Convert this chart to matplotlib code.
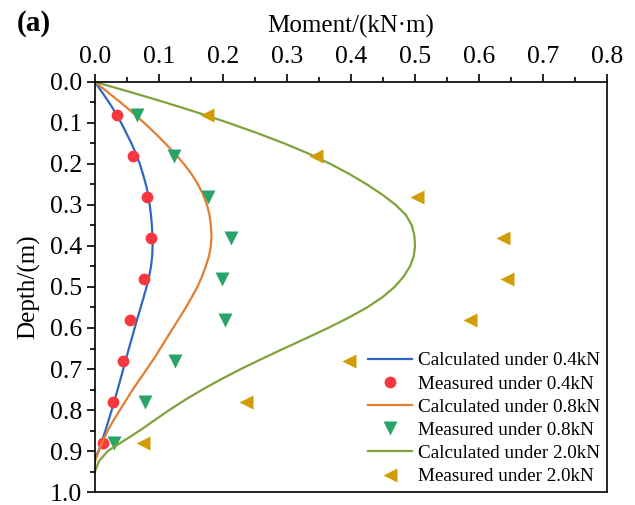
import numpy as np
import matplotlib
matplotlib.use("Agg")
import matplotlib.pyplot as plt
from matplotlib.ticker import MultipleLocator

plt.rcParams['font.family'] = ['Liberation Serif', 'DejaVu Serif']

# calculated curves: depth (m) vs moment (kN*m), 0.025 m steps
calc_depth = [0.000, 0.025, 0.050, 0.075, 0.100, 0.125, 0.150, 0.175, 0.200, 0.225,
              0.250, 0.275, 0.300, 0.325, 0.350, 0.375, 0.400, 0.425, 0.450, 0.475,
              0.500, 0.525, 0.550, 0.575, 0.600, 0.625, 0.650, 0.675, 0.700, 0.725,
              0.750, 0.775, 0.800, 0.825, 0.850, 0.875, 0.900]
calc_04 = [0.000, 0.011, 0.022, 0.032, 0.041, 0.049, 0.057, 0.064, 0.070, 0.075,
           0.0795, 0.0830, 0.0855, 0.0875, 0.0889, 0.0897, 0.0900, 0.0893, 0.0875, 0.0845,
           0.0805, 0.0760, 0.0713, 0.0666, 0.0620, 0.0575, 0.0530, 0.0486, 0.0442, 0.0398,
           0.0354, 0.0308, 0.0261, 0.0213, 0.0163, 0.0110, 0.0055]
calc_08 = [0.000, 0.020, 0.040, 0.059, 0.077, 0.094, 0.110, 0.125, 0.139, 0.151,
           0.161, 0.169, 0.175, 0.179, 0.181, 0.182, 0.181, 0.178, 0.173, 0.167,
           0.160, 0.151, 0.142, 0.132, 0.122, 0.112, 0.102, 0.092, 0.081, 0.070,
           0.059, 0.049, 0.039, 0.029, 0.020, 0.012, 0.006]
calc_20 = [0.000, 0.056, 0.110, 0.161, 0.209, 0.254, 0.296, 0.334, 0.368, 0.398,
           0.425, 0.449, 0.470, 0.486, 0.495, 0.499, 0.500, 0.498, 0.492, 0.482,
           0.468, 0.449, 0.425, 0.396, 0.364, 0.330, 0.295, 0.261, 0.228, 0.197,
           0.168, 0.141, 0.116, 0.093, 0.070, 0.045, 0.020]
# where each curve comes back to zero
tail_04 = ([0.917], [0.0])
tail_08 = ([0.925], [0.0])
tail_20 = ([0.925, 0.950], [0.006, 0.0])

# measured points
meas_depth = [0.08, 0.18, 0.28, 0.38, 0.48, 0.58, 0.68, 0.78, 0.88]
meas_04 = [0.034, 0.060, 0.081, 0.087, 0.077, 0.054, 0.044, 0.028, 0.012]
meas_08 = [0.065, 0.124, 0.177, 0.213, 0.199, 0.203, 0.125, 0.078, 0.030]
meas_20 = [0.175, 0.346, 0.503, 0.638, 0.644, 0.586, 0.397, 0.236, 0.075]

fig = plt.figure(figsize=(6.35, 5.05), dpi=100)
ax = fig.add_axes([0.1496, 0.0257, 0.8064, 0.812])

ax.plot(calc_04 + tail_04[1], calc_depth + tail_04[0], color='#2e67c4', lw=1.6,
        label='Calculated under 0.4kN')
ax.plot(meas_04, meas_depth, 'o', color='#f7383f', ms=8.5, mec='none',
        label='Measured under 0.4kN')
ax.plot(calc_08 + tail_08[1], calc_depth + tail_08[0], color='#e07f32', lw=1.6,
        label='Calculated under 0.8kN')
ax.plot(meas_08, meas_depth, 'v', color='#28a466', ms=10, mec='none',
        label='Measured under 0.8kN')
ax.plot(calc_20 + tail_20[1], calc_depth + tail_20[0], color='#80a23c', lw=1.6,
        label='Calculated under 2.0kN')
ax.plot(meas_20, meas_depth, '<', color='#d29c06', ms=10, mec='none',
        label='Measured under 2.0kN')

ax.set_xlim(0, 0.8)
ax.set_ylim(1.0, 0.0)
ax.xaxis.set_major_locator(MultipleLocator(0.1))
ax.xaxis.set_minor_locator(MultipleLocator(0.05))
ax.yaxis.set_major_locator(MultipleLocator(0.1))
ax.yaxis.set_minor_locator(MultipleLocator(0.05))
ax.xaxis.set_major_formatter(lambda v, p: f"{v:.1f}")
ax.yaxis.set_major_formatter(lambda v, p: f"{v:.1f}")
ax.xaxis.tick_top()
ax.xaxis.set_label_position('top')
ax.tick_params(which='both', direction='out', width=1.2, labelsize=18.5, colors='black')
ax.tick_params(which='major', length=6)
ax.tick_params(which='minor', length=3.5)
ax.tick_params(axis='x', which='both', top=True, bottom=False, pad=4)
ax.tick_params(axis='y', which='both', left=True, right=False, pad=3.5)
for s in ax.spines.values():
    s.set_linewidth(1.2)

ax.set_xlabel('Moment/(kN·m)', fontsize=18, labelpad=10)
ax.set_ylabel('Depth/(m)', fontsize=18, labelpad=7)

fig.text(0.054, 0.953, '(a)', fontsize=21, fontweight='bold', ha='center', va='center')

ax.legend(loc='lower right', frameon=False, fontsize=13.8, handlelength=2.3,
          handletextpad=0.3, labelspacing=0.3, borderpad=0.15, borderaxespad=0.2)

fig.savefig('out.png', dpi=100)
